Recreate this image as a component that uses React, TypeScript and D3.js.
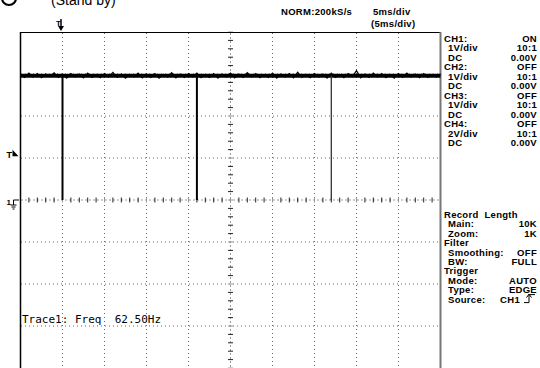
import React from "react";
import * as d3 from "d3";

// ---- data ----
const timeDomain = [-5, 45]; // ms, 5 ms/div, 10 div
const voltDomain = [-4, 4]; // V, 1 V/div, 8 div
const gridTimes = [0, 5, 10, 15, 25, 30, 35, 40];
const gridVolts = [-3, -2, -1, 1, 2, 3];
const centerTime = 20;
const baseLevel = 2.96; // V, idle level of CH1
const pulseTimes = [0, 16, 32]; // ms, drop-outs to ground
const pulseColors = ["#000", "#000", "#333"];
const pulseWidths = [2, 2, 1.3];
const triggerLevel = 1.1; // V
// noise along the band (V offsets every 0.5 ms), read loosely from the trace
const noiseVals = [
  0.03, -0.04, 0.06, -0.03, 0.05, -0.05, 0.04, -0.02, 0.07, -0.04,
  0.03, -0.06, 0.05, -0.03, 0.04, -0.05, 0.06, -0.04, 0.03, -0.05,
  0.05, -0.03, 0.08, -0.04, 0.04, -0.06, 0.03, -0.03, 0.06, -0.05,
  0.04, -0.04, 0.05, -0.06, 0.03, -0.03, 0.07, -0.05, 0.04, -0.04,
  0.05, -0.03, 0.06, -0.05, 0.03, -0.04, 0.05, -0.06, 0.04, -0.03,
  0.06, -0.05, 0.04, -0.04, 0.07, -0.03, 0.05, -0.05, 0.03, -0.04,
  0.06, -0.06, 0.04, -0.03, 0.05, -0.05, 0.08, -0.04, 0.03, -0.05,
  0.05, -0.03, 0.04, -0.06, 0.06, -0.04, 0.03, -0.05, 0.05, -0.03,
  0.12, -0.05, 0.04, -0.04, 0.06, -0.03, 0.05, -0.05, 0.03, -0.06,
  0.05, -0.04, 0.06, -0.03, 0.04, -0.05, 0.05, -0.04, 0.03, -0.03, 0.04,
];

const chLabels = ["CH1:", "1V/div", "DC", "CH2:", "1V/div", "DC", "CH3:", "1V/div", "DC", "CH4:", "2V/div", "DC"];
const chIndent = [0, 1, 1, 0, 1, 1, 0, 1, 1, 0, 1, 1];
const chValues = ["ON", "10:1", "0.00V", "OFF", "10:1", "0.00V", "OFF", "10:1", "0.00V", "OFF", "10:1", "0.00V"];
const setLabels = ["Record Length", "Main:", "Zoom:", "Filter", "Smoothing:", "BW:", "Trigger", "Mode:", "Type:", "Source:"];
const setIndent = [0, 1, 1, 0, 1, 1, 0, 1, 1, 1];
const setValues = ["", "10K", "1K", "", "OFF", "FULL", "", "AUTO", "EDGE", "CH1"];
const headerTexts = ["NORM:200kS/s", "5ms/div", "(5ms/div)"];
const traceLabel = "Trace1: Freq\u00A0\u00A062.50Hz";

export default function App() {
  const W = 540, H = 368;
  const x = d3.scaleLinear().domain(timeDomain).range([20.5, 440.5]);
  const y = d3.scaleLinear().domain(voltDomain).range([368, 32]);
  const font = "'Liberation Sans', Arial, sans-serif";

  const noiseTimes = noiseVals.map((_, i) => timeDomain[0] + i * 0.5);
  const band = d3.line<number>().x((t) => x(t)).y(() => y(baseLevel))(noiseTimes) as string;
  const jag = d3
    .line<number>()
    .x((t) => x(t))
    .y((t, i) => y(baseLevel + noiseVals[i]))(noiseTimes) as string;

  const hTicks = d3.range(timeDomain[0], timeDomain[1] + 0.001, 1);
  const vTicks = d3.range(voltDomain[0], voltDomain[1] + 0.001, 0.2);

  const y0 = y(0);
  const xc = x(centerTime);
  const rowY1 = (i: number) => 41.5 + i * 9.5;
  const rowY2 = (i: number) => 218 + i * 9.4;
  const fs = 9.5;
  const ls = 0.3;

  return (
    <svg width={W} height={H} style={{ position: "absolute", left: 0, top: 0, background: "#fff" }}>
      {/* header */}
      <circle cx={9} cy={-2} r={7} fill="none" stroke="#000" strokeWidth={2.2} />
      <text x={51} y={5} fontFamily={font} fontSize={14} fill="#000">(Stand by)</text>
      <text x={281} y={15} fontFamily={font} fontSize={fs} fontWeight="bold" letterSpacing={ls} fill="#000">{headerTexts[0]}</text>
      <text x={373} y={15} fontFamily={font} fontSize={fs} fontWeight="bold" letterSpacing={ls} fill="#000">{headerTexts[1]}</text>
      <text x={371} y={27} fontFamily={font} fontSize={fs} fontWeight="bold" letterSpacing={ls} fill="#000">{headerTexts[2]}</text>

      {/* trigger position marker */}
      <text x={56} y={26} fontFamily={font} fontSize={8} fontWeight="bold">T</text>
      <line x1={x(0) - 1.5} x2={x(0) - 1.5} y1={19} y2={28} stroke="#000" strokeWidth={1.5} />
      <path d={`M${x(0) - 4.5},26 L${x(0) + 1.5},26 L${x(0) - 1.5},31 Z`} fill="#000" />

      {/* grid */}
      {gridTimes.map((t) => (
        <line key={"gv" + t} x1={x(t)} x2={x(t)} y1={33} y2={368} stroke="#666" strokeWidth={1} strokeDasharray="1,3" />
      ))}
      {gridVolts.map((v) => (
        <line key={"gh" + v} x1={21} x2={440} y1={y(v)} y2={y(v)} stroke="#666" strokeWidth={1} strokeDasharray="1,3" />
      ))}
      {/* center axes */}
      <line x1={21} x2={440} y1={y0} y2={y0} stroke="#999" strokeWidth={1} strokeDasharray="2,2" />
      <line x1={xc} x2={xc} y1={33} y2={368} stroke="#999" strokeWidth={1} strokeDasharray="2,2" />
      {hTicks.map((t, i) => (
        <line key={"ht" + i} x1={x(t)} x2={x(t)} y1={y0 - 2.5} y2={y0 + 2.5} stroke={i % 5 === 0 ? "#999" : "#222"} strokeWidth={1} />
      ))}
      {vTicks.map((v, i) => (
        <line key={"vt" + i} x1={xc - 2.5} x2={xc + 2.5} y1={y(v)} y2={y(v)} stroke={i % 5 === 0 ? "#999" : "#222"} strokeWidth={1} />
      ))}

      {/* frame */}
      <line x1={20.5} x2={20.5} y1={32} y2={368} stroke="#000" strokeWidth={1.5} />
      <line x1={20} x2={441} y1={32.5} y2={32.5} stroke="#000" strokeWidth={1} />
      <line x1={440.5} x2={440.5} y1={32} y2={368} stroke="#777" strokeWidth={2} />

      {/* trace */}
      <path d={band} fill="none" stroke="#000" strokeWidth={4} />
      <path d={jag} fill="none" stroke="#000" strokeWidth={1.2} />
      {pulseTimes.map((t, i) => (
        <line key={"p" + i} x1={x(t)} x2={x(t)} y1={y(baseLevel)} y2={y(0)} stroke={pulseColors[i]} strokeWidth={pulseWidths[i]} />
      ))}

      {/* left markers */}
      <text x={6.5} y={157.5} fontFamily={font} fontSize={9} fontWeight="bold">T</text>
      <path d={`M12.5,${y(triggerLevel) - 4} L18.5,${y(triggerLevel) + 2.5} L12.5,${y(triggerLevel) + 2.5} Z`} fill="#000" />
      <text x={6.5} y={y0 + 5} fontFamily={font} fontSize={8} fontWeight="bold">1</text>
      <path d={`M19,${y0} H13.5 V${y0 + 5} M10.5,${y0 + 5} H16.5 M11.5,${y0 + 7} H15.5 M12.5,${y0 + 9} H14.5`} fill="none" stroke="#000" strokeWidth={1} />

      {/* trace readout */}
      <text x={22} y={323} fontFamily="'DejaVu Sans Mono', monospace" fontSize={11} fill="#000">{traceLabel}</text>

      {/* right panel */}
      {chLabels.map((l, i) => (
        <text key={"cl" + i} x={444 + chIndent[i] * 4} y={rowY1(i)} fontFamily={font} fontSize={fs} fontWeight="bold" letterSpacing={ls}>{l}</text>
      ))}
      {chValues.map((v, i) => (
        <text key={"cv" + i} x={537} y={rowY1(i)} textAnchor="end" fontFamily={font} fontSize={fs} fontWeight="bold" letterSpacing={ls}>{v}</text>
      ))}
      {setLabels.map((l, i) => (
        <text key={"sl" + i} x={444 + setIndent[i] * 4} y={rowY2(i)} fontFamily={font} fontSize={fs} fontWeight="bold" letterSpacing={ls} wordSpacing={3}>{l}</text>
      ))}
      {setValues.map((v, i) =>
        v ? (
          <text key={"sv" + i} x={i === 9 ? 520 : 537} y={rowY2(i)} textAnchor="end" fontFamily={font} fontSize={fs} fontWeight="bold" letterSpacing={ls}>{v}</text>
        ) : null
      )}
      {/* rising edge trigger icon */}
      <path d={`M524,${rowY2(9)} H529 V${rowY2(9) - 8} H535 M526.5,${rowY2(9) - 5} L529,${rowY2(9) - 8.5} L531.5,${rowY2(9) - 5}`} fill="none" stroke="#000" strokeWidth={1} />
    </svg>
  );
}
